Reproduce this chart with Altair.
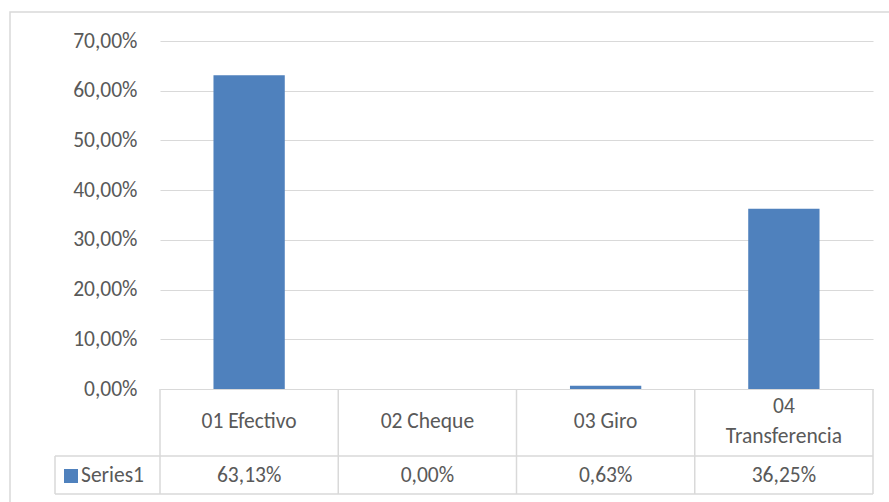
import altair as alt
import pandas as pd

# Payment method shares
categories = ["01 Efectivo", "02 Cheque", "03 Giro", "04 Transferencia"]
shares = [0.6313, 0.0, 0.0063, 0.3625]
series_name = "Series1"
y_ticks = [0.0, 0.1, 0.2, 0.3, 0.4, 0.5, 0.6, 0.7]

df = pd.DataFrame({"category": categories, "share": shares, "series": series_name})

W, H = 713, 452          # plot + data table area
PLOT_H = 348             # height of the bar area above the table
ROW1_Y = 33              # header row centre below the plot
ROW2_Y = 87              # value row centre below the plot
LINE_H = 30
GRID = "#d9d9d9"
TEXT = "#595959"
FONT = "Carlito, Calibri, Lato, sans-serif"
FS = 21.5
BLUE = "#4f81bd"

pct_expr = "replace(format(datum.value, '.2%'), '.', ',')"

x = alt.X("category:N", sort=categories, axis=None,
          scale=alt.Scale(domain=categories, paddingInner=0.6, paddingOuter=0.3))
y_scale = alt.Scale(domain=[0, 0.7], range=[PLOT_H, 0])

base = alt.Chart(df)

bars = base.mark_bar(color=BLUE).encode(
    x=x,
    y=alt.Y("share:Q", scale=y_scale,
            axis=alt.Axis(values=y_ticks, labelExpr=pct_expr, title=None,
                          domain=False, ticks=False, grid=True,
                          gridColor=GRID, gridWidth=1,
                          labelFont=FONT, labelFontSize=FS, labelColor=TEXT,
                          labelPadding=23)),
)

# Data table: header row with category names (long names wrap onto two lines)
labelled = base.transform_calculate(
    label="length(datum.category) > 12 ? replace(datum.category, ' ', '\\n') : datum.category",
    wrapped="length(datum.category) > 12",
)
header_single = labelled.transform_filter("!datum.wrapped").mark_text(
    font=FONT, fontSize=FS, color=TEXT, baseline="middle").encode(
    x=x, y=alt.value(PLOT_H + ROW1_Y), text="label:N")
header_wrapped = labelled.transform_filter("datum.wrapped").mark_text(
    font=FONT, fontSize=FS, color=TEXT, lineBreak="\n", lineHeight=LINE_H,
    baseline="middle").encode(
    x=x, y=alt.value(PLOT_H + ROW1_Y - LINE_H / 2), text="label:N")

# Value row with percentages
values = base.transform_calculate(
    label="replace(format(datum.share, '.2%'), '.', ',')"
).mark_text(font=FONT, fontSize=FS, color=TEXT, baseline="middle").encode(
    x=x, y=alt.value(PLOT_H + ROW2_Y), text="label:N")

legend_sym = base.transform_filter("datum.category == '01 Efectivo'").mark_square(
    color=BLUE, size=196, opacity=1).encode(
    x=alt.value(-89), y=alt.value(PLOT_H + ROW2_Y))
legend_txt = base.transform_filter("datum.category == '01 Efectivo'").mark_text(
    font=FONT, fontSize=FS, color=TEXT, align="left", baseline="middle").encode(
    x=alt.value(-79), y=alt.value(PLOT_H + ROW2_Y), text="series:N")

# Table grid lines
one = alt.Chart(df).transform_filter("datum.category == '01 Efectivo'")
step = W / 4
table_lines = []
for i in range(5):
    table_lines.append(one.mark_rule(color=GRID, strokeWidth=1.5).encode(
        x=alt.value(step * i), y=alt.value(PLOT_H), y2=alt.value(H + 1)))
for yp in (PLOT_H + 67, H + 1):
    table_lines.append(one.mark_rule(color=GRID, strokeWidth=1.5).encode(
        x=alt.value(-105), x2=alt.value(W), y=alt.value(yp)))
table_lines.append(one.mark_rule(color=GRID, strokeWidth=1.5).encode(
    x=alt.value(-105), y=alt.value(PLOT_H + 67), y2=alt.value(H + 1)))

frame = one.mark_rect(fill=None, stroke=GRID, strokeWidth=1.5).encode(
    x=alt.value(-150), x2=alt.value(W + 30), y=alt.value(-29), y2=alt.value(H + 30))

chart = alt.layer(
    frame, bars, *table_lines, header_single, header_wrapped,
    values, legend_sym, legend_txt
).properties(
    width=W, height=H,
    autosize=alt.AutoSizeParams(type="none"),
    padding={"left": 160, "top": 41, "right": 16, "bottom": 9},
    background="white",
).configure_view(stroke=None)

chart.save("out.html", embed_options={"renderer": "svg", "actions": False})
